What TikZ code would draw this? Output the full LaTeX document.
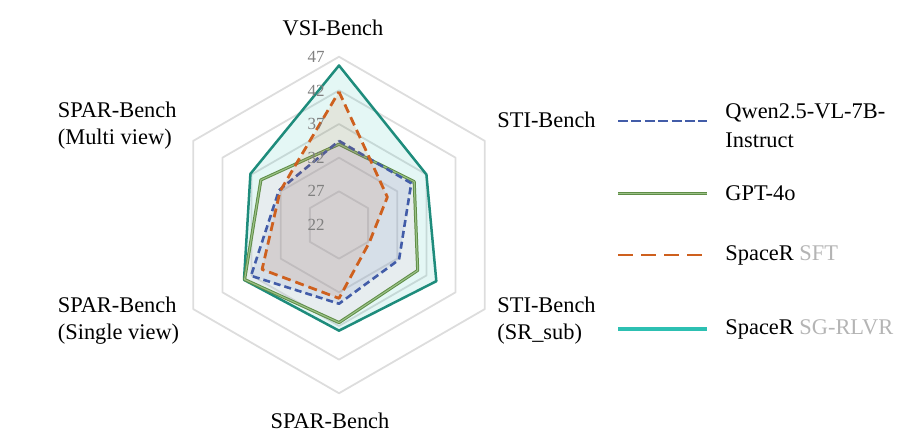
\documentclass[tikz,border=0pt]{standalone}
\usepackage{fontspec}
\setmainfont{Liberation Serif}
\usepackage{xcolor}
\usepackage{tikz}

\definecolor{qwenblue}{RGB}{66,92,168}
\definecolor{gptgreen}{RGB}{112,166,84}
\definecolor{gptfill}{RGB}{240,200,215}
\definecolor{sftorange}{RGB}{206,96,30}
\definecolor{rlvrteal}{RGB}{30,140,124}
\definecolor{rlvrlight}{RGB}{45,192,178}
\definecolor{gridgray}{RGB}{221,221,221}
\definecolor{tickgray}{RGB}{128,128,128}
\definecolor{subgray}{RGB}{180,180,180}

\tikzset{
  gridline/.style={draw=gridgray, line width=0.9pt},
  qwen/.style={draw=qwenblue, line width=1.3pt, dash pattern=on 3.5pt off 2pt},
  gpt/.style={draw=gptgreen!85!black, double=gptgreen!70!white, double distance=0.55pt, line width=0.5pt},
  sft/.style={draw=sftorange, line width=1.4pt, dash pattern=on 4.5pt off 2.5pt},
  rlvr/.style={draw=rlvrteal, line width=1.25pt},
  axislabel/.style={font=\fontsize{11.2}{13.8}\selectfont, inner sep=0pt, align=left},
  legendtext/.style={font=\fontsize{11.2}{14.2}\selectfont, inner sep=0pt, align=left, anchor=west},
  ticklabel/.style={font=\fontsize{8.5}{10}\selectfont, text=tickgray, inner sep=0pt, anchor=east}
}

\begin{document}
\begin{tikzpicture}[x=1pt, y=1pt, line join=round,
  declare function={rr(\v)=(\v-22)*3.365;}]
\useasboundingbox (-169.5,-108.5) rectangle (287,112.5);

% grid
\foreach \v in {27,32,37,42,47}
  \draw[gridline] (90:{rr(\v)}) -- (30:{rr(\v)}) -- (-30:{rr(\v)}) -- (-90:{rr(\v)}) -- (210:{rr(\v)}) -- (150:{rr(\v)}) -- cycle;

% scores
\draw[rlvr, fill=rlvrlight, fill opacity=0.13] (90:{rr(45.7)}) -- (30:{rr(37.0)}) -- (-30:{rr(38.7)}) -- (-90:{rr(37.7)}) -- (210:{rr(38.3)}) -- (150:{rr(37.2)}) -- cycle;
\draw[gpt, fill=gptfill, fill opacity=0.2] (90:{rr(34.0)}) -- (30:{rr(34.9)}) -- (-30:{rr(35.5)}) -- (-90:{rr(36.5)}) -- (210:{rr(38.2)}) -- (150:{rr(35.4)}) -- cycle;
\draw[qwen, fill=qwenblue, fill opacity=0.1] (90:{rr(34.5)}) -- (30:{rr(34.4)}) -- (-30:{rr(32.3)}) -- (-90:{rr(33.7)}) -- (210:{rr(37.1)}) -- (150:{rr(32.3)}) -- cycle;
\draw[sft, fill=sftorange, fill opacity=0.11] (90:{rr(41.8)}) -- (30:{rr(30.3)}) -- (-30:{rr(27.2)}) -- (-90:{rr(32.9)}) -- (210:{rr(35.2)}) -- (150:{rr(32.1)}) -- cycle;

% ticks
\foreach \v in {22,27,32,37,42,47}
  \node[ticklabel] (t\v) at (-7,{rr(\v)}) {\v};

% axes
\node[axislabel] (vsi) at (-3,98.5) {VSI-Bench};
\node[axislabel, anchor=west] (sti) at (79,52.5) {STI-Bench};
\node[axislabel, anchor=west] (stisr) at (79,-47.75) {STI-Bench\\(SR\_sub)};
\node[axislabel] (spar) at (-4.5,-98) {SPAR-Bench};
\node[axislabel, anchor=west] (sparsv) at (-140.75,-47.75) {SPAR-Bench\\(Single view)};
\node[axislabel, anchor=west] (sparmv) at (-140.75,49.75) {SPAR-Bench\\(Multi view)};

% legend
\node[legendtext] (lqwen) at (193,49.6) {Qwen2.5-VL-7B-\\Instruct};
\node[legendtext] (lgpt) at (193,16) {GPT-4o};
\node[legendtext] (lsft) at (193,-15) {SpaceR \textcolor{subgray}{SFT}};
\node[legendtext] (lrlvr) at (193,-52) {SpaceR \textcolor{subgray}{SG-RLVR}};
\draw[qwen, line width=1.4pt, dash pattern=on 5pt off 1.7pt] (139.5,52) -- (184,52);
\draw[gpt, line width=0.5pt, double distance=0.6pt] (139.5,15.8) -- (184,15.8);
\draw[sft, line width=1.4pt, dash pattern=on 7.5pt off 4pt] (139.5,-15) -- (184,-15);
\draw[rlvr, draw=rlvrlight, line width=2pt] (139.5,-52.2) -- (184,-52.2);
\end{tikzpicture}
\end{document}
